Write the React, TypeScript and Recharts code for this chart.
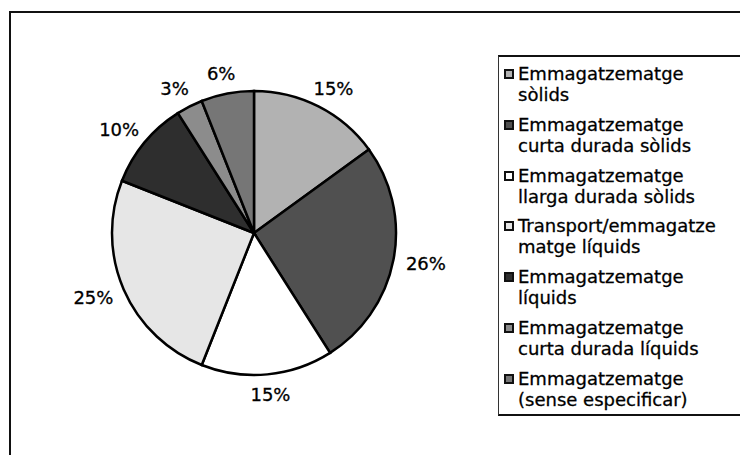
import { PieChart, Pie, Cell, Legend } from "recharts"

const names = [
  "Emmagatzematge\nsòlids",
  "Emmagatzematge\ncurta durada sòlids",
  "Emmagatzematge\nllarga durada sòlids",
  "Transport/emmagatze\nmatge líquids",
  "Emmagatzematge\nlíquids",
  "Emmagatzematge\ncurta durada líquids",
  "Emmagatzematge\n(sense especificar)",
]

const values = [15, 26, 15, 25, 10, 3, 6]

const fills = ["#b2b2b2", "#505050", "#ffffff", "#e6e6e6", "#2e2e2e", "#8c8c8c", "#767676"]

const data = names.map((name, i) => ({ name, value: values[i] }))

const FONT = "'DejaVu Sans', Verdana, sans-serif"
const RADIAN = Math.PI / 180

const renderLabel = (props: any) => {
  const { cx, cy, midAngle, outerRadius, value } = props
  const cos = Math.cos(-midAngle * RADIAN)
  const sin = Math.sin(-midAngle * RADIAN)
  const r = outerRadius + 12
  // push label box outwards by half its size, like Excel does
  const x = cx + r * cos + 21 * cos
  const y = cy + r * sin + 8 * sin
  return (
    <text
      x={x}
      y={y}
      textAnchor="middle"
      dominantBaseline="central"
      fontFamily={FONT}
      fontSize={18}
      fill="#000"
      stroke="#000"
      strokeWidth={0.3}
    >
      {`${value}%`}
    </text>
  )
}

const renderLegend = (props: any) => {
  // keep the data order, not alphabetical
  const payload = (props.payload || [])
    .slice()
    .sort((a: any, b: any) => names.indexOf(a.value) - names.indexOf(b.value))
  return (
    <div
      style={{
        boxSizing: "border-box",
        width: "100%",
        height: "100%",
        borderTop: "2px solid #111",
        borderBottom: "2px solid #111",
        borderLeft: "1px solid #333",
        padding: "6px 0 0 5px",
        fontFamily: FONT,
        fontSize: 18,
        lineHeight: "21px",
        color: "#000",
        WebkitTextStroke: "0.3px #000",
      }}
    >
      {payload.map((entry: any) => {
        const idx = names.indexOf(entry.value)
        return (
          <div
            key={entry.value}
            style={{ display: "flex", alignItems: "flex-start", marginBottom: 8.8 }}
          >
            <span
              style={{
                display: "inline-block",
                boxSizing: "border-box",
                width: 10,
                height: 10,
                marginTop: 6,
                marginRight: 4,
                flex: "none",
                border: "2px solid #111",
                background: fills[idx] ?? entry.color,
              }}
            />
            <span style={{ whiteSpace: "pre-line" }}>{entry.value}</span>
          </div>
        )
      })}
    </div>
  )
}

export default function App() {
  return (
    <div style={{ position: "absolute", left: 0, top: 0, width: 740, height: 455, background: "#fff" }}>
      <div
        style={{
          position: "absolute",
          left: 9,
          top: 11,
          width: 729,
          height: 460,
          borderTop: "2px solid #111",
          borderLeft: "2px solid #111",
          borderRight: "1px solid #333",
        }}
      />
      <PieChart width={740} height={455} margin={{ top: 0, right: 0, bottom: 0, left: 0 }}>
        <Pie
          data={data}
          dataKey="value"
          nameKey="name"
          cx={254}
          cy={233}
          outerRadius={142}
          startAngle={90}
          endAngle={-270}
          stroke="#000"
          strokeWidth={2.5}
          label={renderLabel}
          labelLine={false}
          isAnimationActive={false}
        >
          {data.map((d, i) => (
            <Cell key={d.name} fill={fills[i]} />
          ))}
        </Pie>
        <Legend
          layout="vertical"
          align="right"
          verticalAlign="top"
          itemSorter={null}
          content={renderLegend}
          wrapperStyle={{ left: 498, top: 55, width: 242, height: 361, right: "auto", bottom: "auto" }}
        />
      </PieChart>
    </div>
  )
}
